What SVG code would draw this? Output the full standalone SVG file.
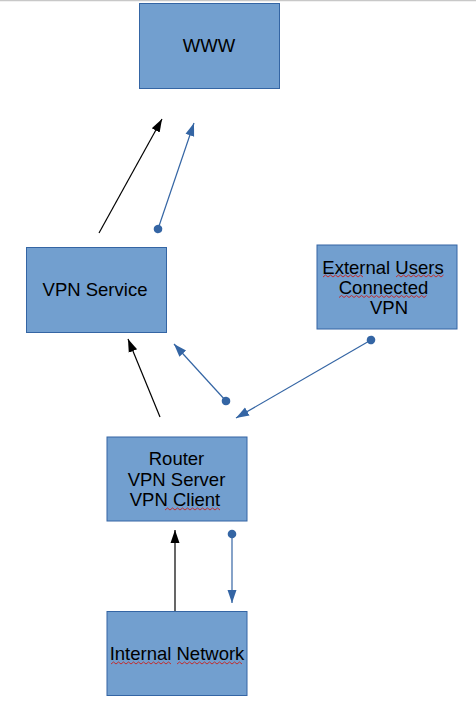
<svg xmlns="http://www.w3.org/2000/svg" width="476" height="705" viewBox="0 0 476 705">
<style>
.box{fill:#729fcf;stroke:#3465a4;stroke-width:1}
.lbl{font-family:"Liberation Sans",Arial,sans-serif;font-size:18.5px;fill:#000;text-anchor:middle}
.blk{stroke:#000;stroke-width:1.2;fill:none;marker-end:url(#ab)}
.blu{stroke:#3465a4;stroke-width:1.2;fill:none;marker-end:url(#au);marker-start:url(#dot)}
.sq{stroke:#c9211e;stroke-width:0.9;fill:none}
</style>
<defs>
<marker id="ab" markerUnits="userSpaceOnUse" markerWidth="14" markerHeight="12" viewBox="0 0 14 12" refX="13" refY="6" orient="auto"><path d="M0,1.5 L13,6 L0,10.5 Z" fill="#000"/></marker>
<marker id="au" markerUnits="userSpaceOnUse" markerWidth="14" markerHeight="12" viewBox="0 0 14 12" refX="13" refY="6" orient="auto"><path d="M0,1.5 L13,6 L0,10.5 Z" fill="#3465a4"/></marker>
<marker id="dot" markerUnits="userSpaceOnUse" markerWidth="10" markerHeight="10" viewBox="0 0 10 10" refX="5" refY="5" orient="auto"><circle cx="5" cy="5" r="4.3" fill="#3465a4"/></marker>
<path id="w" d="M0,0"/>
</defs>
<rect width="476" height="705" fill="#fff"/>
<line x1="0" y1="0.6" x2="476" y2="0.6" stroke="#c8c8c8" stroke-width="1.4"/>
<g id="connectors">
<line class="blk" x1="99" y1="233" x2="162" y2="119"/>
<line class="blu" x1="158" y1="229" x2="194" y2="123"/>
<line class="blk" x1="160" y1="417" x2="128" y2="339"/>
<line class="blu" x1="226" y1="401" x2="174" y2="344"/>
<line class="blu" x1="371" y1="340" x2="236" y2="418"/>
<line class="blk" x1="175" y1="611" x2="175" y2="530"/>
<line class="blu" x1="232" y1="534" x2="232" y2="603"/>
</g>
<g id="www">
<rect class="box" x="139.5" y="3.5" width="140" height="85"/>
<text class="lbl" x="209" y="52">WWW</text>
</g>
<g id="vpn-service">
<rect class="box" x="26.5" y="247.5" width="140" height="85"/>
<text class="lbl" x="95" y="296">VPN Service</text>
</g>
<g id="external-users">
<rect class="box" x="317" y="245" width="140" height="84"/>
<text class="lbl" x="383" y="274">External Users</text>
<text class="lbl" x="383.5" y="294">Connected</text>
<text class="lbl" x="389" y="314">VPN</text>
<path class="sq" d="M323,277 l2.5,-2 l2.5,2 l2.5,-2 l2.5,2 l2.5,-2 l2.5,2 l2.5,-2 l2.5,2 l2.5,-2 l2.5,2 l2.5,-2 l2.5,2 l2.5,-2 l2.5,2 l2.5,-2 l2.5,2"/>
<path class="sq" d="M396,277 l2.5,-2 l2.5,2 l2.5,-2 l2.5,2 l2.5,-2 l2.5,2 l2.5,-2 l2.5,2 l2.5,-2 l2.5,2 l2.5,-2 l2.5,2 l2.5,-2 l2.5,2 l2.5,-2 l2.5,2 l2.5,-2 l2.5,2 l2.5,-2"/>
<path class="sq" d="M339,297.5 l2.5,-2 l2.5,2 l2.5,-2 l2.5,2 l2.5,-2 l2.5,2 l2.5,-2 l2.5,2 l2.5,-2 l2.5,2 l2.5,-2 l2.5,2 l2.5,-2 l2.5,2 l2.5,-2 l2.5,2 l2.5,-2 l2.5,2 l2.5,-2 l2.5,2 l2.5,-2 l2.5,2 l2.5,-2 l2.5,2 l2.5,-2 l2.5,2 l2.5,-2 l2.5,2 l2.5,-2 l2.5,2 l2.5,-2 l2.5,2 l2.5,-2 l2.5,2 l2.5,-2"/>
</g>
<g id="router">
<rect class="box" x="107" y="437" width="140" height="84"/>
<text class="lbl" x="176.5" y="465">Router</text>
<text class="lbl" x="176.5" y="485.5">VPN Server</text>
<text class="lbl" x="175" y="506">VPN Client</text>
<path class="sq" d="M165,510 l2.5,-2 l2.5,2 l2.5,-2 l2.5,2 l2.5,-2 l2.5,2 l2.5,-2 l2.5,2 l2.5,-2 l2.5,2 l2.5,-2 l2.5,2 l2.5,-2 l2.5,2 l2.5,-2 l2.5,2 l2.5,-2 l2.5,2 l2.5,-2 l2.5,2 l2.5,-2 l2.5,2"/>
</g>
<g id="internal-network">
<rect class="box" x="107" y="611.5" width="140" height="84"/>
<text class="lbl" x="177" y="660">Internal Network</text>
<path class="sq" d="M111,664 l2.5,-2 l2.5,2 l2.5,-2 l2.5,2 l2.5,-2 l2.5,2 l2.5,-2 l2.5,2 l2.5,-2 l2.5,2 l2.5,-2 l2.5,2 l2.5,-2 l2.5,2 l2.5,-2 l2.5,2 l2.5,-2 l2.5,2 l2.5,-2 l2.5,2 l2.5,-2 l2.5,2 l2.5,-2 l2.5,2"/>
<path class="sq" d="M177,664 l2.5,-2 l2.5,2 l2.5,-2 l2.5,2 l2.5,-2 l2.5,2 l2.5,-2 l2.5,2 l2.5,-2 l2.5,2 l2.5,-2 l2.5,2 l2.5,-2 l2.5,2 l2.5,-2 l2.5,2 l2.5,-2 l2.5,2 l2.5,-2 l2.5,2 l2.5,-2 l2.5,2 l2.5,-2 l2.5,2 l2.5,-2 l2.5,2"/>
</g>
</svg>
